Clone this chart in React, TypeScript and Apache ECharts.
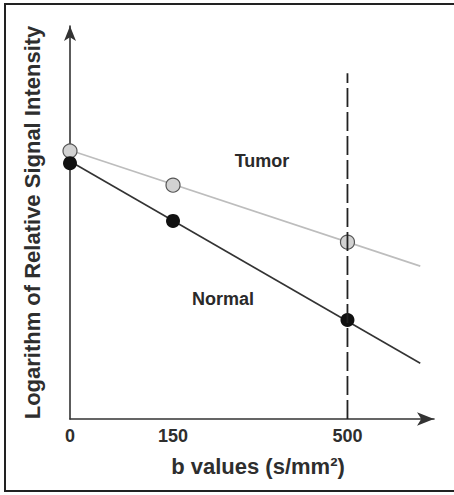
import React, { useEffect, useRef } from "react";
import * as echarts from "echarts";

// b values shown on the axis (the original axis is schematic, not to scale)
const bLabels = ["0", "150", "500"];
const bAxisPos = [0, 150, 404];
// relative log signal (arbitrary units)
const tumorValues = [68.2, 59.5, 45.0];
const normalValues = [65.1, 50.4, 25.2];
// fitted lines, start and end
const fitX = [0, 510];
const tumorFit = [68.4, 38.9];
const normalFit = [65.6, 14.2];
const dashedX = 404;
const dashedRange = [0, 88];

const FONT = "'Liberation Sans', Arial, Helvetica, sans-serif";

export default function App() {
  const ref = useRef<HTMLDivElement>(null);
  useEffect(() => {
    document.body.style.margin = "0";
    const chart = echarts.init(ref.current!, null, { renderer: "svg" });
    const axisLineStyle = { color: "#333", width: 1.6 };
    chart.setOption({
      animation: false,
      backgroundColor: "#fff",
      grid: { left: 70, right: 20, top: 26, bottom: 76 },
      xAxis: {
        type: "value",
        min: 0,
        max: 530,
        axisLine: {
          show: true,
          symbol: ["none", "arrow"],
          symbolSize: [10, 17],
          lineStyle: axisLineStyle,
        },
        axisTick: { show: false },
        splitLine: { show: false },
        axisLabel: {
          customValues: bAxisPos,
          formatter: (v: number) => {
            const i = bAxisPos.indexOf(v);
            return i >= 0 ? bLabels[i] : "";
          },
          fontSize: 18,
          fontWeight: "bold",
          fontFamily: FONT,
          color: "#2e2e2e",
          margin: 8,
        },
        name: "b values (s/mm²)",
        nameLocation: "middle",
        nameGap: 36,
        nameTextStyle: {
          fontSize: 22,
          fontWeight: "bold",
          fontFamily: FONT,
          color: "#2e2e2e",
          padding: [0, 0, 0, 12],
        },
      },
      yAxis: {
        type: "value",
        min: 0,
        max: 100,
        axisLine: {
          show: true,
          symbol: ["none", "arrow"],
          symbolSize: [9, 15],
          lineStyle: axisLineStyle,
        },
        axisTick: { show: false },
        axisLabel: { show: false },
        splitLine: { show: false },
        name: "Logarithm of Relative Signal Intensity",
        nameLocation: "middle",
        nameGap: 27,
        nameTextStyle: {
          fontSize: 22,
          fontWeight: "bold",
          fontFamily: FONT,
          color: "#2e2e2e",
        },
      },
      series: [
        {
          type: "line",
          data: fitX.map((x, i) => [x, tumorFit[i]]),
          showSymbol: false,
          lineStyle: { color: "#bdbdbd", width: 1.6 },
          z: 1,
        },
        {
          type: "line",
          data: fitX.map((x, i) => [x, normalFit[i]]),
          showSymbol: false,
          lineStyle: { color: "#333", width: 1.6 },
          z: 1,
        },
        {
          type: "scatter",
          data: bAxisPos.map((x, i) => [x, tumorValues[i]]),
          symbolSize: 14,
          itemStyle: { color: "#d2d2d2", borderColor: "#555", borderWidth: 1.2, opacity: 1 },
          z: 3,
        },
        {
          type: "scatter",
          data: bAxisPos.map((x, i) => [x, normalValues[i]]),
          symbolSize: 14,
          itemStyle: { color: "#111", opacity: 1 },
          z: 4,
        },
        {
          type: "line",
          data: dashedRange.map((y) => [dashedX, y]),
          showSymbol: false,
          lineStyle: { color: "#222", width: 1.8, type: [19, 5] },
          z: 5,
        },
      ],
      graphic: [
        {
          type: "rect",
          shape: { x: 5, y: 4, width: 470, height: 487 },
          style: { fill: "none", stroke: "#222", lineWidth: 2 },
          silent: true,
        },
        {
          type: "text",
          x: 262,
          y: 161,
          style: {
            text: "Tumor",
            fontSize: 18,
            fontWeight: "bold",
            fontFamily: FONT,
            fill: "#2a2a2a",
            align: "center",
            verticalAlign: "middle",
          },
        },
        {
          type: "text",
          x: 223,
          y: 299,
          style: {
            text: "Normal",
            fontSize: 18,
            fontWeight: "bold",
            fontFamily: FONT,
            fill: "#2a2a2a",
            align: "center",
            verticalAlign: "middle",
          },
        },
      ],
    });
    return () => chart.dispose();
  }, []);
  return <div ref={ref} style={{ width: 454, height: 495 }} />;
}
